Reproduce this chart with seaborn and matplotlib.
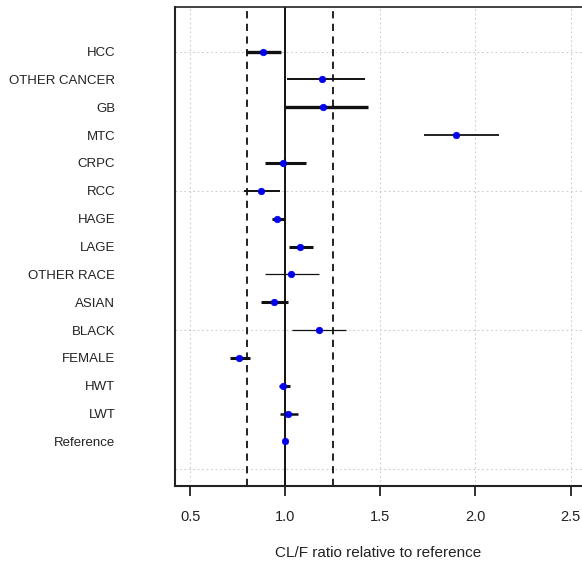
import matplotlib
matplotlib.use("Agg")
import matplotlib.pyplot as plt
import pandas as pd
import seaborn as sns
from matplotlib.ticker import FixedLocator

# Covariate effects on CL/F (point estimate and interval), bottom to top
covariates = ["Reference", "LWT", "HWT", "FEMALE", "BLACK", "ASIAN", "OTHER RACE",
              "LAGE", "HAGE", "RCC", "CRPC", "MTC", "GB", "OTHER CANCER", "HCC"]
ratio = [1.000, 1.012, 0.986, 0.758, 1.177, 0.939, 1.030, 1.079, 0.956,
         0.872, 0.988, 1.900, 1.200, 1.193, 0.881]
ci_low = [1.000, 0.970, 0.965, 0.707, 1.035, 0.872, 0.891, 1.018, 0.930,
          0.784, 0.895, 1.728, 0.996, 1.009, 0.795]
ci_high = [1.000, 1.067, 1.023, 0.816, 1.319, 1.012, 1.175, 1.144, 0.991,
           0.974, 1.107, 2.126, 1.435, 1.417, 0.979]

# No-effect line and equivalence bounds
no_effect = 1.0
bounds = [0.8, 1.25]
x_ticks = [0.5, 1.0, 1.5, 2.0, 2.5]

# Interval line weights per row
interval_lw = [0, 1.8, 2.2, 2.2, 0.9, 2.2, 0.9, 2.2, 2.2, 1.4, 2.2, 1.3, 2.4, 1.4, 2.4]

df = pd.DataFrame({"covariate": covariates, "ratio": ratio,
                   "lo": ci_low, "hi": ci_high})
df["pos"] = range(1, len(df) + 1)

sns.set_style("white")
plt.rcParams["font.family"] = ["Liberation Sans", "DejaVu Sans"]
text_color = "#222222"

fig = plt.figure(figsize=(5.82, 5.62), dpi=100)
ax = fig.add_axes([175 / 582, 1 - 486 / 562, 1 - 175 / 582, (486 - 7) / 562])

# grid
for xt in x_ticks:
    ax.axvline(xt, color="#cccccc", lw=0.8, ls=(0, (1.5, 2.5)), zorder=0)
ax.yaxis.set_minor_locator(FixedLocator([0, 5, 10, 15]))
ax.yaxis.remove_overlapping_locs = False
ax.grid(which="minor", axis="y", color="#cccccc", lw=0.8, ls=(0, (1.5, 2.5)))
ax.tick_params(axis="y", which="minor", length=0)

# reference lines
ax.axvline(no_effect, color="#111111", lw=1.4, zorder=1)
for b in bounds:
    ax.axvline(b, color="#111111", lw=1.3, ls=(0, (4, 3)), zorder=1)

# intervals
for (_, row), lw in zip(df.iterrows(), interval_lw):
    if lw > 0:
        ax.hlines(row["pos"], row["lo"], row["hi"], color="#111111",
                  lw=lw, zorder=2, capstyle="butt")

# point estimates
sns.scatterplot(data=df, x="ratio", y="pos", ax=ax, color="#0000ee",
                s=22, edgecolor="#0000ee", linewidth=0.5, zorder=3, legend=False)

ax.set_xlim(0.42, 2.56)
ax.set_ylim(-0.6, 16.6)
ax.set_xticks(x_ticks)
ax.set_xticklabels([f"{t:.1f}" for t in x_ticks], fontsize=10.5, color=text_color)
ax.set_yticks(df["pos"])
ax.set_yticklabels(df["covariate"], fontsize=9.5, color=text_color)
ax.tick_params(axis="y", which="major", length=0, pad=43)
ax.tick_params(axis="x", which="major", bottom=True, direction="out",
               length=7, width=1.3, color="#222222", pad=10)

ax.set_xlabel("CL/F ratio relative to reference", fontsize=11,
              color=text_color, labelpad=16)
ax.set_ylabel("")

for side in ["left", "bottom", "top"]:
    ax.spines[side].set_color("#222222")
ax.spines["left"].set_linewidth(1.5)
ax.spines["bottom"].set_linewidth(1.5)
ax.spines["top"].set_linewidth(1.2)
ax.spines["right"].set_visible(False)

fig.savefig("out.png", dpi=100)
